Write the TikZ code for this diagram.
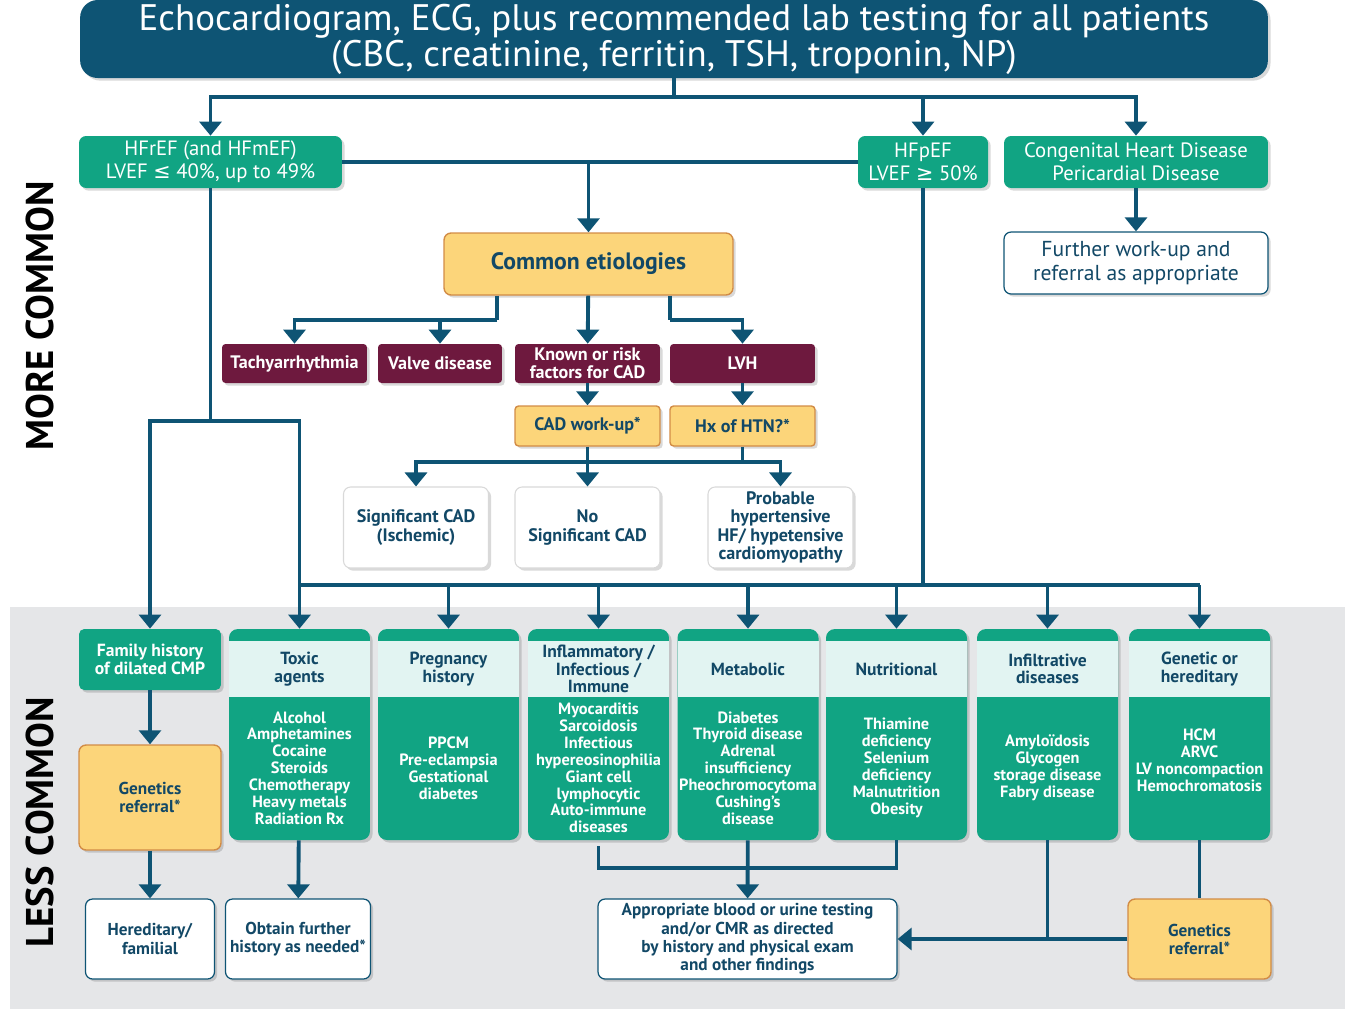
\documentclass[tikz,border=0pt]{standalone}
\usepackage{fontspec}
\setmainfont{PT Sans}
\newfontfamily\symfont{DejaVu Sans}
\usetikzlibrary{arrows.meta,shadows}

\definecolor{navy}{RGB}{14,84,116}
\definecolor{navytext}{RGB}{18,72,102}
\definecolor{hfgreen}{RGB}{17,164,131}
\definecolor{hdrcyan}{RGB}{226,244,242}
\definecolor{wine}{RGB}{110,25,62}
\definecolor{etioyellow}{RGB}{252,213,122}
\definecolor{etioedge}{RGB}{210,140,70}
\definecolor{lessgray}{RGB}{229,230,232}

\begin{document}
\begin{tikzpicture}[x=0.02cm,y=-0.02cm,
  ln/.style={navy,line width=2.2pt},
  arr/.style={ln,-{Triangle[width=12.5pt,length=8pt]}},
  sh/.style={drop shadow={shadow xshift=1.5pt,shadow yshift=-1.5pt,opacity=0.15,fill=black}},
  box/.style={rectangle,rounded corners=4pt,align=center,inner sep=1pt,sh},
  topbox/.style={box,rounded corners=10pt,fill=navy,text=white,minimum width=23.76cm,minimum height=1.56cm,font=\fontsize{21}{19}\selectfont},
  hf/.style={box,fill=hfgreen,text=white,minimum height=1.04cm,font=\fontsize{11.8}{13}\selectfont},
  etio/.style={box,fill=etioyellow,draw=etioedge,line width=0.8pt,text=navytext,font=\bfseries\fontsize{10.3}{10.5}\selectfont},
  cause/.style={box,rounded corners=2pt,fill=wine,text=white,minimum height=0.78cm,font=\bfseries\fontsize{10.3}{10.4}\selectfont},
  outcome/.style={box,fill=white,draw=black!15,line width=0.6pt,text=navytext,minimum width=2.9cm,minimum height=1.62cm,font=\bfseries\fontsize{10.3}{10.5}\selectfont},
  final/.style={box,fill=white,draw=navy,line width=0.7pt,text=navytext,minimum height=1.6cm,font=\bfseries\fontsize{9.8}{10.4}\selectfont},
  col/.style={rectangle,rounded corners=5pt,fill=hfgreen,minimum width=2.82cm,minimum height=4.22cm,sh},
  colhead/.style={rectangle,fill=hdrcyan,minimum width=2.82cm,minimum height=1.12cm,inner sep=0pt,align=center,text=navytext,font=\bfseries\fontsize{10}{10}\selectfont},
  colbody/.style={inner sep=0pt,align=center,text=white,font=\bfseries\fontsize{9.3}{9.6}\selectfont},
  side/.style={rotate=90,font=\bfseries\fontsize{22}{22}\selectfont}]

  \useasboundingbox (0,0) rectangle (1351,1009);
  \fill[lessgray] (10,607) rectangle (1345,1009);

  \node[side] (more) at (40,316) {MORE COMMON};
  \node[side] (less) at (40,822) {LESS COMMON};

  % top row
  \node[topbox] (top) at (674,39) {\raisebox{-3pt}{Echocardiogram, ECG, plus recommended lab testing for all patients}\\\raisebox{-3pt}{(CBC, creatinine, ferritin, TSH, troponin, NP)}};
  \node[hf,minimum width=5.26cm] (hfr) at (210.5,162) {HFrEF (and HFmEF)\\LVEF {\symfont ≤} 40\%, up to 49\%};
  \node[hf,minimum width=2.6cm] (hfp) at (923,162) {HFpEF\\LVEF {\symfont ≥} 50\%};
  \node[hf,minimum width=5.28cm] (chd) at (1136,162) {Congenital Heart Disease\\Pericardial Disease};
  \node[box,fill=white,draw=navy,line width=0.7pt,text=navytext,minimum width=5.28cm,minimum height=1.24cm,font=\fontsize{12.3}{13.4}\selectfont] (further) at (1136,263) {Further work-up and\\referral as appropriate};

  % common etiologies
  \node[etio,minimum width=5.78cm,minimum height=1.24cm,font=\bfseries\fontsize{13.5}{14}\selectfont] (common) at (588.5,264) {Common etiologies};
  \node[cause,minimum width=2.9cm] (tachy) at (294.5,363.5) {Tachyarrhythmia};
  \node[cause,minimum width=2.48cm] (valve) at (440,363.5) {Valve disease};
  \node[cause,minimum width=2.9cm] (known) at (587.5,363.5) {Known or risk\\factors for CAD};
  \node[cause,minimum width=2.9cm] (lvh) at (742.5,363.5) {LVH};
  \node[etio,rounded corners=2pt,minimum width=2.9cm,minimum height=0.8cm] (cadw) at (587.5,426) {CAD work-up*};
  \node[etio,rounded corners=2pt,minimum width=2.9cm,minimum height=0.8cm] (hx) at (742.5,426) {Hx of HTN?*};
  \node[outcome] (sig) at (416,527.5) {Significant CAD\\(Ischemic)};
  \node[outcome] (nosig) at (587.5,527.5) {No\\Significant CAD};
  \node[outcome] (prob) at (780.5,527.5) {Probable\\hypertensive\\HF/ hypetensive\\cardiomyopathy};

  % less common
  \node[box,rounded corners=3pt,fill=hfgreen,text=white,minimum width=2.84cm,minimum height=1.22cm,font=\bfseries\fontsize{10}{10.4}\selectfont] (fam) at (150,659.5) {Family history\\of dilated CMP};
  \node[col] (tox) at (299.5,734.5) {};
  \node[col] (preg) at (448.5,734.5) {};
  \node[col] (infl) at (598.5,734.5) {};
  \node[col] (meta) at (748,734.5) {};
  \node[col] (nutr) at (896.5,734.5) {};
  \node[col] (infi) at (1047.5,734.5) {};
  \node[col] (gene) at (1199.5,734.5) {};

  \node[colhead] (toxh) at (299.5,669) {Toxic\\agents};
  \node[colhead] (pregh) at (448.5,669) {Pregnancy\\history};
  \node[colhead] (inflh) at (598.5,669) {Inflammatory /\\Infectious /\\Immune};
  \node[colhead] (metah) at (748,669) {Metabolic};
  \node[colhead] (nutrh) at (896.5,669) {Nutritional};
  \node[colhead] (infih) at (1047.5,669) {Infiltrative\\diseases};
  \node[colhead] (geneh) at (1199.5,669) {Genetic or\\hereditary};

  \node[colbody] (toxb) at (299.5,768) {Alcohol\\Amphetamines\\Cocaine\\Steroids\\Chemotherapy\\Heavy metals\\Radiation Rx};
  \node[colbody] (pregb) at (448.5,768) {PPCM\\Pre-eclampsia\\Gestational\\diabetes};
  \node[colbody] (inflb) at (598.5,768) {Myocarditis\\Sarcoidosis\\Infectious\\hypereosinophilia\\Giant cell\\lymphocytic\\Auto-immune\\diseases};
  \node[colbody] (metab) at (748,768) {Diabetes\\Thyroid disease\\Adrenal\\insufficiency\\Pheochromocytoma\\Cushing’s\\disease};
  \node[colbody] (nutrb) at (896.5,768) {Thiamine\\deficiency\\Selenium\\deficiency\\Malnutrition\\Obesity};
  \node[colbody] (infib) at (1047.5,768) {Amyloïdosis\\Glycogen\\storage disease\\Fabry disease};
  \node[colbody] (geneb) at (1199.5,760) {HCM\\ARVC\\LV noncompaction\\Hemochromatosis};

  \node[etio,minimum width=2.84cm,minimum height=2.1cm,font=\bfseries\fontsize{9.8}{10.2}\selectfont] (genl) at (150,797.5) {Genetics\\referral*};
  \node[final,minimum width=2.58cm] (hered) at (150,939) {Hereditary/\\familial};
  \node[final,minimum width=2.9cm] (obtain) at (298,939) {Obtain further\\history as needed*};
  \node[final,minimum width=5.98cm] (approp) at (747.5,939) {Appropriate blood or urine testing\\and/or CMR as directed\\by history and physical exam\\and other findings};
  \node[etio,minimum width=2.86cm,minimum height=1.6cm,font=\bfseries\fontsize{9.8}{10.2}\selectfont] (genr) at (1199.5,939) {Genetics\\referral*};

  % connectors, top part
  \coordinate (split) at (674,97);
  \draw[ln] (top) -- (split);
  \draw[arr] (split) -| (hfr);
  \draw[arr] (split) -| (hfp);
  \draw[arr] (split) -| (chd);
  \draw[ln] (hfr) -- (hfp);
  \draw[arr] (common |- hfr) -- (common);
  \draw[arr] (chd) -- (further);

  \coordinate (eleft) at (497,320);
  \coordinate (eright) at (670,320);
  \draw[ln] (eleft |- common.south) -- (eleft);
  \draw[arr] (eleft) -| (tachy);
  \draw[arr] (eleft) -| (valve);
  \draw[arr] (common) -- (known);
  \draw[ln] (eright |- common.south) -- (eright);
  \draw[arr] (eright) -| (lvh);
  \draw[arr] (known) -- (cadw);
  \draw[arr] (lvh) -- (hx);

  \coordinate (cadsplit) at (587.5,462);
  \draw[ln] (cadw) -- (cadsplit);
  \draw[ln] (hx) -- (hx |- cadsplit);
  \draw[arr] (cadsplit) -| (sig);
  \draw[arr] (cadsplit) -- (nosig);
  \draw[arr] (cadsplit) -| (prob);

  % connectors, down to less common
  \coordinate (trunk) at (210.5,421);
  \draw[ln] (hfr) -- (trunk);
  \draw[arr] (trunk) -| (fam);
  \draw[arr] (trunk) -| (tox);
  \coordinate (bus) at (299.5,585);
  \draw[ln] (bus) -- (gene |- bus);
  \draw[ln] (hfp) -- (hfp |- bus);
  \foreach \c in {preg,infl,meta,nutr,infi,gene}
    \draw[arr] (\c |- bus) -- (\c);

  \draw[arr] (fam) -- (genl);
  \draw[arr] (genl) -- (hered);
  \draw[arr] (tox) -- (obtain);
  \draw[ln] (infl.south) ++(0,6) -- ++(0,22) -| (nutr.south);
  \draw[arr] (meta) -- (approp);
  \draw[ln] (infi) -- (infi |- approp);
  \draw[arr] (genr) -- (approp);
  \draw[ln] (gene) -- (genr);
\end{tikzpicture}
\end{document}
